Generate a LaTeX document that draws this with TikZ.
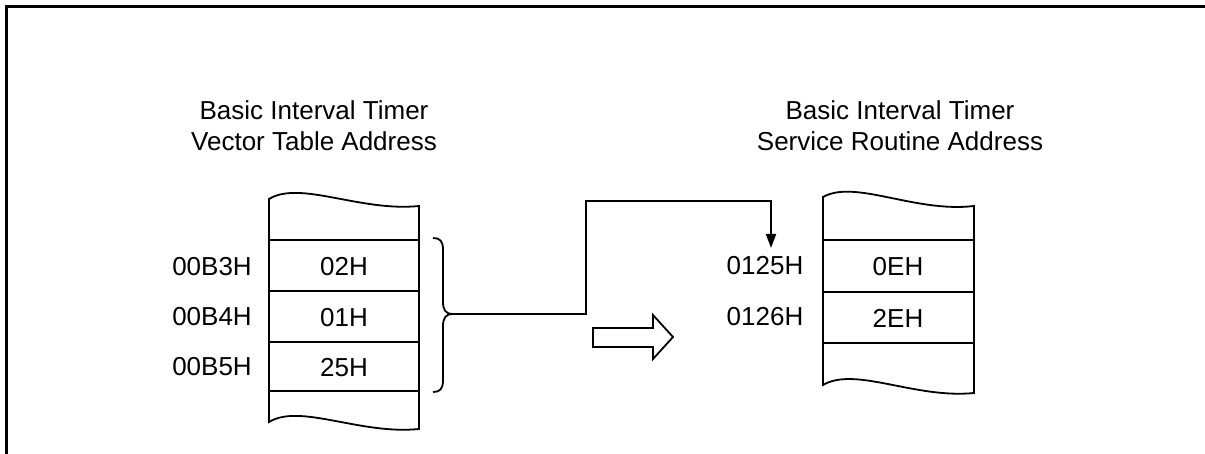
\documentclass[tikz,border=0pt]{standalone}
\usepackage{fontspec}
\setmainfont{Liberation Sans}
\usetikzlibrary{arrows.meta}
\begin{document}
\begin{tikzpicture}[x=1pt,y=-1pt,
  txt/.style={font=\fontsize{26}{31}\selectfont, inner sep=0pt},
  title/.style={txt, align=center},
  rule/.style={line width=1.8pt},
  frame/.style={line width=3pt},
  link/.style={line width=1.8pt},
  tip/.style={-{Triangle[length=14pt,width=10pt]}}
]
\useasboundingbox (0,0) rectangle (1205,454);

% outer frame (top and left edges only)
\draw[frame] (6,454) -- (6,7) -- (1205,7);

% titles
\node[title] (ltitle) at (314,126) {Basic Interval Timer\\Vector Table Address};
\node[title] (rtitle) at (900,126) {Basic Interval Timer\\Service Routine Address};

% left memory strip
\draw[rule] (269,199) .. controls (300,180) and (360,212) .. (419,206)
  -- (419,429) .. controls (360,435) and (300,403) .. (269,422) -- cycle;
\foreach \y in {240,291,342,391} \draw[rule] (269,\y) -- (419,\y);

\node[txt] (v1) at (344,267) {02H};
\node[txt] (v2) at (344,318) {01H};
\node[txt] (v3) at (344,368) {25H};
\node[txt] (a1) at (212,267) {00B3H};
\node[txt] (a2) at (212,317) {00B4H};
\node[txt] (a3) at (212,367) {00B5H};

% right memory strip
\draw[rule] (823,197) .. controls (855,179) and (915,213) .. (974,206)
  -- (974,393) .. controls (915,399) and (855,366) .. (823,385) -- cycle;
\foreach \y in {240,292,343} \draw[rule] (823,\y) -- (974,\y);

\node[txt] (w1) at (898,267) {0EH};
\node[txt] (w2) at (898,318) {2EH};
\node[txt] (b1) at (765,266) {0125H};
\node[txt] (b2) at (765,317) {0126H};

% brace grouping the three vector bytes
\coordinate (btop) at (433,238);
\coordinate (bbot) at (433,392);
\coordinate (btip) at (452,314);
\draw[link] (btop) .. controls (440,238) and (443,241) .. (443,250)
  -- (443,302) .. controls (443,310) and (446,314) .. (btip)
  .. controls (446,314) and (443,318) .. (443,326)
  -- (443,380) .. controls (443,389) and (440,392) .. (bbot);

% connector to the service routine address
\coordinate (bend1) at (586,314);
\coordinate (bend2) at (586,201);
\coordinate (bend3) at (771,201);
\coordinate (target) at (771,248);
\draw[link, tip] (btip) -- (bend1) -- (bend2) -- (bend3) -- (target);

% hollow block arrow
\draw[rule] (593,328) -- (653,328) -- (653,315) -- (673,337)
  -- (653,359) -- (653,347) -- (593,347) -- cycle;
\end{tikzpicture}
\end{document}
